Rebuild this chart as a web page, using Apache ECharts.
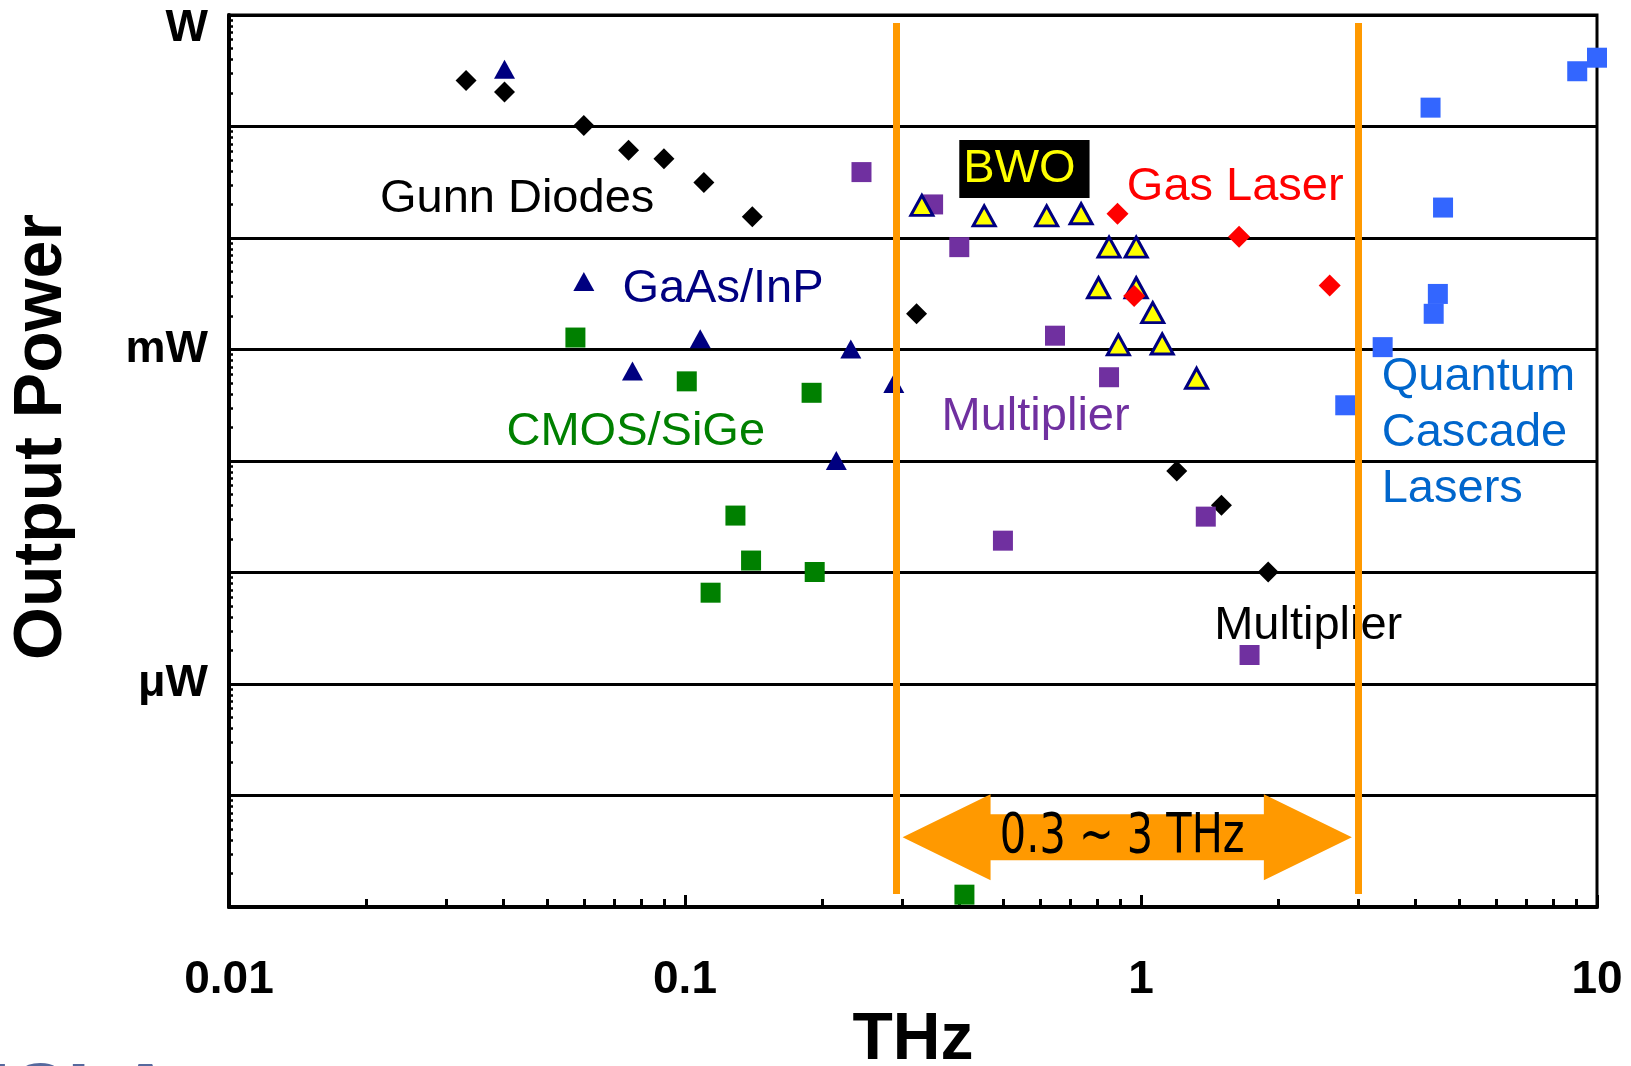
<!DOCTYPE html>
<html>
<head>
<meta charset="utf-8">
<script src="https://cdn.jsdelivr.net/npm/echarts@6/dist/echarts.min.js"></script>
<style>
  html, body { margin: 0; padding: 0; background: #fff; }
  #chart { width: 1631px; height: 1066px; }
</style>
</head>
<body>
<div id="chart"></div>
<script>
// frequency (THz), output power (W)
var gunnDiodes = [[0.0331, 0.258], [0.0402, 0.204], [0.0600, 0.102], [0.0752, 0.0612], [0.0899, 0.0515],
  [0.110, 0.0314], [0.1405, 0.0155], [0.322, 0.00209]];
var blackMultiplier = [[1.198, 8.15e-5], [1.501, 4.0e-5], [1.901, 1.01e-5]];
var gaasInp = [[0.0402, 0.327], [0.0600, 0.00408], [0.0767, 6.42e-4], [0.108, 1.25e-3], [0.231, 1.01e-3],
  [0.287, 4.96e-4], [0.2147, 1.01e-4]];
var cmosSige = [[0.0575, 1.28e-3], [0.1009, 5.18e-4], [0.1895, 4.09e-4], [0.129, 3.24e-5], [0.1396, 1.28e-5],
  [0.1925, 1.01e-5], [0.1138, 6.59e-6], [0.410, 1.29e-8]];
var multiplier = [[0.2438, 0.0390], [0.350, 0.0200], [0.3995, 8.28e-3], [0.6477, 1.33e-3], [0.851, 5.64e-4],
  [0.498, 1.93e-5], [1.387, 3.17e-5], [1.730, 1.82e-6]];
var bwo = [[0.3307, 0.0196], [0.453, 0.0158], [0.621, 0.0158], [0.739, 0.0165], [0.851, 8.28e-3], [0.976, 8.28e-3],
  [0.807, 3.58e-3], [0.976, 3.58e-3], [1.061, 2.14e-3], [0.892, 1.10e-3], [1.113, 1.12e-3], [1.324, 5.52e-4]];
var gasLaser = [[0.888, 0.0165], [1.641, 0.01027], [0.966, 3.02e-3], [2.593, 3.74e-3]];
var qcl = [[9.05, 0.313], [10.0, 0.414], [4.315, 0.1476], [4.596, 0.01875], [4.477, 3.15e-3], [4.384, 2.09e-3],
  [3.388, 1.05e-3], [2.805, 3.16e-4]];

// THz band: vertical lines and double arrow
var bandEdges = [0.29, 3];
var bandArrow = [[0.3, 2.9, 4.22e-8]];
var bandText = '0.3 ~ 3 THz';

// axis ticks
var xLabelValues = [0.01, 0.1, 1, 10];
var yLabelValues = [1, 1e-3, 1e-6];

// text annotations placed in data coords
var notes = [
  { text: 'Gunn Diodes', at: [0.02143, 0.02227], color: '#000000' },
  { text: 'GaAs/InP', at: [0.0729, 3.51e-3], color: '#000080' },
  { text: 'CMOS/SiGe', at: [0.0406, 1.81e-4], color: '#008000' },
  { text: 'Multiplier', at: [0.3653, 2.49e-4], color: '#7030A0' },
  { text: 'Multiplier', at: [1.447, 3.31e-6], color: '#000000' },
  { text: 'Gas Laser', at: [0.931, 0.02883], color: '#FF0000' },
  { text: 'BWO', at: [0.3995, 0.04153], color: '#FFFF00', box: true },
  { text: 'Quantum\nCascade\nLasers', at: [3.372, 1.768e-4], color: '#0066CC' }
];

var FONT = "'Liberation Sans', Arial, Helvetica, sans-serif";

function decadeMinors(lo, hi) {
  var out = [];
  for (var e = lo; e < hi; e++) {
    for (var k = 2; k <= 9; k++) out.push(+(k * Math.pow(10, e)).toPrecision(3));
  }
  return out;
}
function decades(lo, hi) {
  var out = [];
  for (var e = lo; e <= hi; e++) out.push(+Math.pow(10, e).toPrecision(3));
  return out;
}

var chart = echarts.init(document.getElementById('chart'));

function scatter(name, data, symbol, size, color, extra) {
  var s = {
    name: name,
    type: 'scatter',
    data: data,
    symbol: symbol,
    symbolSize: size,
    itemStyle: { color: color, opacity: 1 },
    z: 3
  };
  if (extra) Object.assign(s.itemStyle, extra);
  return s;
}

var option = {
  animation: false,
  backgroundColor: '#ffffff',
  grid: {
    left: 229, right: 34, top: 15, bottom: 159,
    outerBoundsMode: 'none', containLabel: false,
    show: true, borderColor: '#000', borderWidth: 3, backgroundColor: 'transparent'
  },
  xAxis: [{
    type: 'log', logBase: 10, min: 0.01, max: 10,
    name: 'THz', nameLocation: 'middle', nameGap: 100,
    nameTextStyle: { fontFamily: FONT, fontWeight: 'bold', fontSize: 66, color: '#000' },
    axisLine: { show: true, lineStyle: { color: '#000', width: 4 } },
    axisTick: { show: true, inside: true, length: 12, lineStyle: { color: '#000', width: 3 }, customValues: xLabelValues },
    axisLabel: {
      customValues: xLabelValues, margin: 50,
      fontFamily: FONT, fontWeight: 'bold', fontSize: 46, color: '#000',
      formatter: function (v) { return String(+v.toPrecision(3)); }
    },
    splitLine: { show: false },
    minorTick: { show: false }
  }, {
    type: 'log', logBase: 10, min: 0.01, max: 10, position: 'bottom',
    axisLine: { show: false },
    axisTick: { show: true, inside: true, length: 8, lineStyle: { color: '#000', width: 3 }, customValues: decadeMinors(-2, 1) },
    axisLabel: { show: false },
    splitLine: { show: false }
  }],
  yAxis: [{
    type: 'log', logBase: 10, min: 1e-8, max: 1,
    axisLine: { show: true, lineStyle: { color: '#000', width: 4 } },
    axisTick: { show: true, inside: true, length: 6, lineStyle: { color: '#000', width: 3 }, customValues: decades(-8, 0) },
    axisLabel: {
      customValues: yLabelValues, margin: 21,
      fontFamily: FONT, fontWeight: 'bold', fontSize: 45, color: '#000',
      formatter: function (v) {
        if (v > 0.5) return '{w|W}';
        if (v > 5e-4) return 'mW';
        return 'μW';
      },
      rich: { w: { fontFamily: FONT, fontWeight: 'bold', fontSize: 45, color: '#000', padding: [28, 0, 0, 0] } }
    },
    splitLine: { show: true, lineStyle: { color: '#000', width: 3 } }
  }, {
    type: 'log', logBase: 10, min: 1e-8, max: 1, position: 'left',
    axisLine: { show: false },
    axisTick: { show: true, inside: true, length: 4, lineStyle: { color: '#000', width: 2.5 }, customValues: decadeMinors(-8, 0) },
    axisLabel: { show: false },
    splitLine: { show: false }
  }],
  graphic: [{
    type: 'text', x: 42, y: 437, rotation: Math.PI / 2,
    style: { text: 'Output Power', fill: '#000', font: 'bold 68px ' + FONT, align: 'center', verticalAlign: 'middle' }
  }, {
    type: 'text', x: -48, y: 1097,
    style: { text: 'UCLA', fill: '#56699e', font: 'bold 80px ' + FONT, align: 'left', verticalAlign: 'middle' }
  }],
  series: [
    {
      name: 'notes', type: 'custom', z: 2, silent: true,
      data: notes.map(function (n) { return n.at; }),
      renderItem: function (params, api) {
        var n = notes[params.dataIndex];
        var p = api.coord([api.value(0), api.value(1)]);
        var style = {
          text: n.text, fill: n.color, font: '47px ' + FONT,
          align: 'left', verticalAlign: 'middle', lineHeight: 56
        };
        if (n.box) {
          style.backgroundColor = '#000';
          style.padding = [6, 14, 4, 4];
          style.lineHeight = 48;
        }
        return { type: 'text', x: p[0], y: p[1], style: style };
      }
    },
    scatter('Gunn Diodes', gunnDiodes, 'diamond', 21, '#000000'),
    scatter('Multiplier (black)', blackMultiplier, 'diamond', 21, '#000000'),
    scatter('Multiplier', multiplier, 'rect', 20, '#7030A0'),
    scatter('BWO', bwo, 'triangle', [22, 20], '#FFFF00', { borderColor: '#000080', borderWidth: 3 }),
    scatter('Gas Laser', gasLaser, 'diamond', 22, '#FF0000'),
    scatter('GaAs/InP', gaasInp, 'triangle', [21, 19], '#000080'),
    scatter('CMOS/SiGe', cmosSige, 'rect', 20, '#008000'),
    scatter('Quantum Cascade Lasers', qcl, 'rect', 20, '#3366FF'),
    {
      name: 'band arrow', type: 'custom', z: 4, silent: true,
      data: bandArrow,
      encode: { x: [0, 1], y: 2 },
      renderItem: function (params, api) {
        var a = api.coord([api.value(0), api.value(2)]);
        var b = api.coord([api.value(1), api.value(2)]);
        var cy = a[1], hl = 88, hh = 43, sh = 23;
        var pts = [
          [a[0], cy], [a[0] + hl, cy - hh], [a[0] + hl, cy - sh], [b[0] - hl, cy - sh], [b[0] - hl, cy - hh],
          [b[0], cy], [b[0] - hl, cy + hh], [b[0] - hl, cy + sh], [a[0] + hl, cy + sh], [a[0] + hl, cy + hh]
        ];
        return {
          type: 'group',
          children: [{
            type: 'polygon', shape: { points: pts }, style: { fill: '#FF9900' }
          }, {
            type: 'text', x: (a[0] + b[0]) / 2 - 5, y: cy, scaleX: 0.74,
            style: {
              text: bandText, fill: '#000', align: 'center', verticalAlign: 'middle',
              font: "56px 'DejaVu Sans', sans-serif"
            }
          }]
        };
      }
    },
    {
      name: 'band', type: 'line', data: [], z: 6, silent: true,
      markLine: {
        silent: true, symbol: 'none', animation: false,
        label: { show: false },
        lineStyle: { color: '#FF9900', width: 7, type: 'solid' },
        data: bandEdges.map(function (f) { return [{ coord: [f, 0.848] }, { coord: [f, 1.31e-8] }]; })
      }
    }
  ]
};

chart.setOption(option);
</script>
</body>
</html>
